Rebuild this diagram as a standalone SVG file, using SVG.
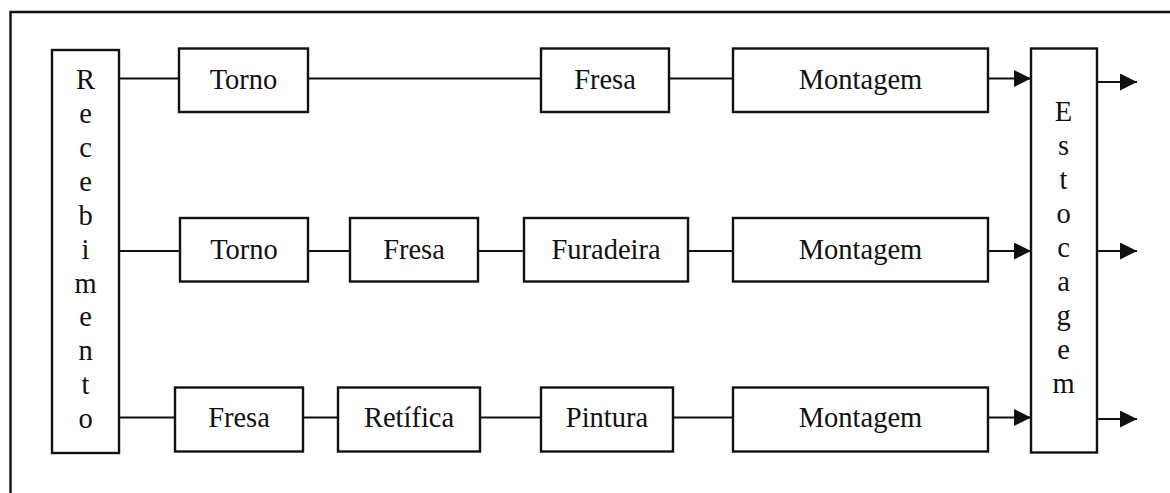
<svg xmlns="http://www.w3.org/2000/svg" width="1170" height="493" viewBox="0 0 1170 493">
  <style>
    .box { fill: #fff; stroke: #111; stroke-width: 2.4; }
    .frame { fill: none; stroke: #111; stroke-width: 2.4; }
    .wire { fill: none; stroke: #111; stroke-width: 2; }
    .arrow { fill: none; stroke: #111; stroke-width: 2; marker-end: url(#head); }
    text { font-family: "Liberation Serif", "Times New Roman", serif; font-size: 28.5px; fill: #111; text-anchor: middle; }
  </style>
  <defs>
    <marker id="head" markerWidth="18" markerHeight="17" refX="17" refY="8.5" orient="auto" markerUnits="userSpaceOnUse">
      <path d="M0,0 L17,8.5 L0,17 Z" fill="#111"/>
    </marker>
  </defs>

  <rect width="1170" height="493" fill="#fff"/>

  <!-- outer frame, open to the right and bottom -->
  <path class="frame" d="M10.5,493 V12 H1170"/>

  <!-- connectors -->
  <g id="connectors">
    <!-- row 1 -->
    <path class="wire" d="M119,78.5 H179"/>
    <path class="wire" d="M308,78.5 H541"/>
    <path class="wire" d="M669,78.5 H733"/>
    <path class="arrow" d="M988,78.5 H1031"/>
    <path class="arrow" d="M1097,82 H1137"/>
    <!-- row 2 -->
    <path class="wire" d="M119,251 H180"/>
    <path class="wire" d="M308,251 H350"/>
    <path class="wire" d="M478,251 H524"/>
    <path class="wire" d="M688,251 H733"/>
    <path class="arrow" d="M988,251 H1031"/>
    <path class="arrow" d="M1097,251 H1137"/>
    <!-- row 3 -->
    <path class="wire" d="M119,417.5 H175"/>
    <path class="wire" d="M303,417.5 H338"/>
    <path class="wire" d="M480,417.5 H541"/>
    <path class="wire" d="M673,417.5 H733"/>
    <path class="arrow" d="M988,417.5 H1031"/>
    <path class="arrow" d="M1097,419 H1137"/>
  </g>

  <!-- receiving column -->
  <g id="recebimento">
    <rect class="box" x="52" y="50" width="67" height="403"/>
    <text x="85.5" y="89">R</text>
    <text x="85.5" y="123">e</text>
    <text x="85.5" y="157">c</text>
    <text x="85.5" y="191">e</text>
    <text x="85.5" y="225">b</text>
    <text x="85.5" y="259">i</text>
    <text x="85.5" y="293">m</text>
    <text x="85.5" y="326">e</text>
    <text x="85.5" y="360">n</text>
    <text x="85.5" y="394">t</text>
    <text x="85.5" y="428">o</text>
  </g>

  <!-- row 1 -->
  <g id="torno-1">
    <rect class="box" x="179" y="48.5" width="129" height="63.5"/>
    <text x="243.5" y="88.5">Torno</text>
  </g>
  <g id="fresa-1">
    <rect class="box" x="541" y="48.5" width="128" height="63.5"/>
    <text x="605" y="88.5">Fresa</text>
  </g>
  <g id="montagem-1">
    <rect class="box" x="733" y="48.5" width="255" height="63.5"/>
    <text x="860.5" y="88.5">Montagem</text>
  </g>

  <!-- row 2 -->
  <g id="torno-2">
    <rect class="box" x="180" y="218" width="128" height="63.5"/>
    <text x="244" y="258.5">Torno</text>
  </g>
  <g id="fresa-2">
    <rect class="box" x="350" y="218" width="128" height="63.5"/>
    <text x="414" y="258.5">Fresa</text>
  </g>
  <g id="furadeira-2">
    <rect class="box" x="524" y="218" width="164" height="63.5"/>
    <text x="606" y="258.5">Furadeira</text>
  </g>
  <g id="montagem-2">
    <rect class="box" x="733" y="218" width="255" height="63.5"/>
    <text x="860.5" y="258.5">Montagem</text>
  </g>

  <!-- row 3 -->
  <g id="fresa-3">
    <rect class="box" x="175" y="387.5" width="128" height="64"/>
    <text x="239" y="427">Fresa</text>
  </g>
  <g id="retifica-3">
    <rect class="box" x="338" y="387.5" width="142" height="64"/>
    <text x="409" y="427">Retífica</text>
  </g>
  <g id="pintura-3">
    <rect class="box" x="541" y="387.5" width="132" height="64"/>
    <text x="607" y="427">Pintura</text>
  </g>
  <g id="montagem-3">
    <rect class="box" x="733" y="387.5" width="255" height="64"/>
    <text x="860.5" y="427">Montagem</text>
  </g>

  <!-- storage column -->
  <g id="estocagem">
    <rect class="box" x="1031" y="48.5" width="66" height="404"/>
    <text x="1063.5" y="121">E</text>
    <text x="1063.5" y="155">s</text>
    <text x="1063.5" y="189">t</text>
    <text x="1063.5" y="223">o</text>
    <text x="1063.5" y="257">c</text>
    <text x="1063.5" y="291">a</text>
    <text x="1063.5" y="325">g</text>
    <text x="1063.5" y="359">e</text>
    <text x="1063.5" y="393">m</text>
  </g>
</svg>
